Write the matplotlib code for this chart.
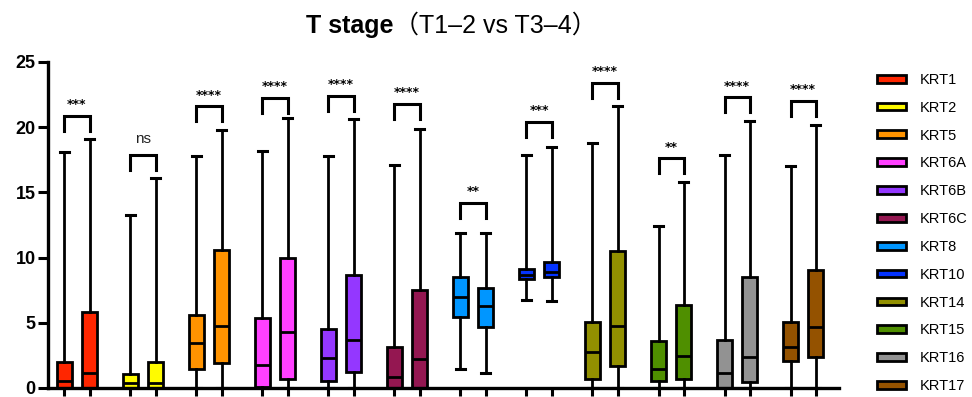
import matplotlib
matplotlib.use("Agg")
import matplotlib.pyplot as plt
from matplotlib.patches import Patch

genes = ["KRT1", "KRT2", "KRT5", "KRT6A", "KRT6B", "KRT6C",
         "KRT8", "KRT10", "KRT14", "KRT15", "KRT16", "KRT17"]
colors = ["#FF2600", "#FFFB00", "#FF9300", "#FF40FF", "#9437FF", "#941751",
          "#0096FF", "#0433FF", "#929000", "#4F8F00", "#929292", "#945200"]

# T1-2 (left box) box-plot statistics per gene
t12_whislo = [0, 0, 0, 0, 0, 0, 1.46, 6.72, 0, 0, 0, 0]
t12_q1 = [0, 0, 1.46, 0.05, 0.56, 0, 5.46, 8.33, 0.66, 0.51, 0, 2.04]
t12_med = [0.5, 0.36, 3.45, 1.76, 2.3, 0.82, 6.97, 8.7, 2.76, 1.46, 1.15, 3.12]
t12_q3 = [2.0, 1.1, 5.57, 5.4, 4.52, 3.14, 8.5, 9.1, 5.06, 3.63, 3.65, 5.06]
t12_whishi = [18.1, 13.3, 17.8, 18.2, 17.8, 17.1, 11.85, 17.85, 18.8, 12.44, 17.9, 17.0]

# T3-4 (right box)
t34_whislo = [0, 0, 0, 0, 0, 0, 1.17, 6.64, 0, 0, 0, 0]
t34_q1 = [0, 0, 1.94, 0.72, 1.25, 0, 4.65, 8.53, 1.66, 0.66, 0.46, 2.35]
t34_med = [1.13, 0.4, 4.75, 4.27, 3.7, 2.2, 6.28, 8.91, 4.72, 2.48, 2.37, 4.7]
t34_q3 = [5.85, 2.0, 10.6, 10.0, 8.66, 7.5, 7.7, 9.63, 10.5, 6.39, 8.48, 9.07]
t34_whishi = [19.1, 16.1, 19.8, 20.7, 20.6, 19.85, 11.9, 18.47, 21.6, 15.8, 20.5, 20.2]

# significance brackets
sig_labels = ["***", "ns", "****", "****", "****", "****",
              "**", "***", "****", "**", "****", "****"]
sig_top = [20.85, 17.83, 21.6, 22.25, 22.4, 21.8, 14.2, 20.4, 23.4, 17.6, 22.3, 22.0]

off, bw = 0.19, 0.23

fig = plt.figure(figsize=(9.72, 3.97), dpi=100)
ax = fig.add_axes([0.0494, 0.0227, 0.8138, 0.8213])

for i, g in enumerate(genes):
    for side, (lo, q1, med, q3, hi) in enumerate([
            (t12_whislo[i], t12_q1[i], t12_med[i], t12_q3[i], t12_whishi[i]),
            (t34_whislo[i], t34_q1[i], t34_med[i], t34_q3[i], t34_whishi[i])]):
        stats = [dict(whislo=lo, q1=q1, med=med, q3=q3, whishi=hi, fliers=[])]
        pos = i - off if side == 0 else i + off
        ax.bxp(stats, positions=[pos], widths=bw, patch_artist=True,
               showfliers=False, manage_ticks=False,
               boxprops=dict(facecolor=colors[i], edgecolor="black", linewidth=2),
               medianprops=dict(color="black", linewidth=2),
               whiskerprops=dict(color="black", linewidth=2),
               capprops=dict(color="black", linewidth=2.2),
               capwidths=0.14)
    top = sig_top[i]
    ax.plot([i - off, i - off, i + off, i + off], [top - 1.15, top, top, top - 1.15],
            color="black", lw=2.2, solid_joinstyle="miter", clip_on=False)
    if sig_labels[i] == "ns":
        ax.text(i, top + 0.75, "ns", ha="center", va="bottom", fontsize=11,
                family="Liberation Sans", color="#222222")
    else:
        ax.text(i, top + 0.35, sig_labels[i], ha="center", va="bottom",
                fontsize=9, fontweight="bold")

ax.set_xlim(-0.439, 11.545)
ax.set_ylim(0, 25)
ax.set_yticks([0, 5, 10, 15, 20, 25])
ax.set_yticklabels(["0", "5", "10", "15", "20", "25"], fontsize=13,
                   fontweight="bold", family="Liberation Sans")
xt = [i + s for i in range(len(genes)) for s in (-off, off)]
ax.set_xticks(xt)
ax.set_xticklabels([""] * len(xt))
ax.tick_params(axis="y", length=7, width=2.2, pad=2)
ax.tick_params(axis="x", length=6, width=2.2)
for s in ("top", "right"):
    ax.spines[s].set_visible(False)
for s in ("left", "bottom"):
    ax.spines[s].set_linewidth(2.4)

handles = [Patch(facecolor=c, edgecolor="black", linewidth=2) for c in colors]
fig.legend(handles, genes, loc="upper left", bbox_to_anchor=(0.895, 0.835),
           frameon=False, handlelength=2.0, handleheight=0.45,
           labelspacing=0.95, handletextpad=0.9, borderpad=0,
           prop=dict(family="Liberation Sans", size=10.5))

fig.text(0.405, 0.935, "T stage", ha="right", va="center", fontsize=18,
         fontweight="bold", family="Liberation Sans")
fig.text(0.405, 0.935, "（T1–2 vs T3–4）", ha="left", va="center", fontsize=18,
         family=["Liberation Sans", "Noto Sans CJK SC"])

fig.savefig("out.png", dpi=100)
